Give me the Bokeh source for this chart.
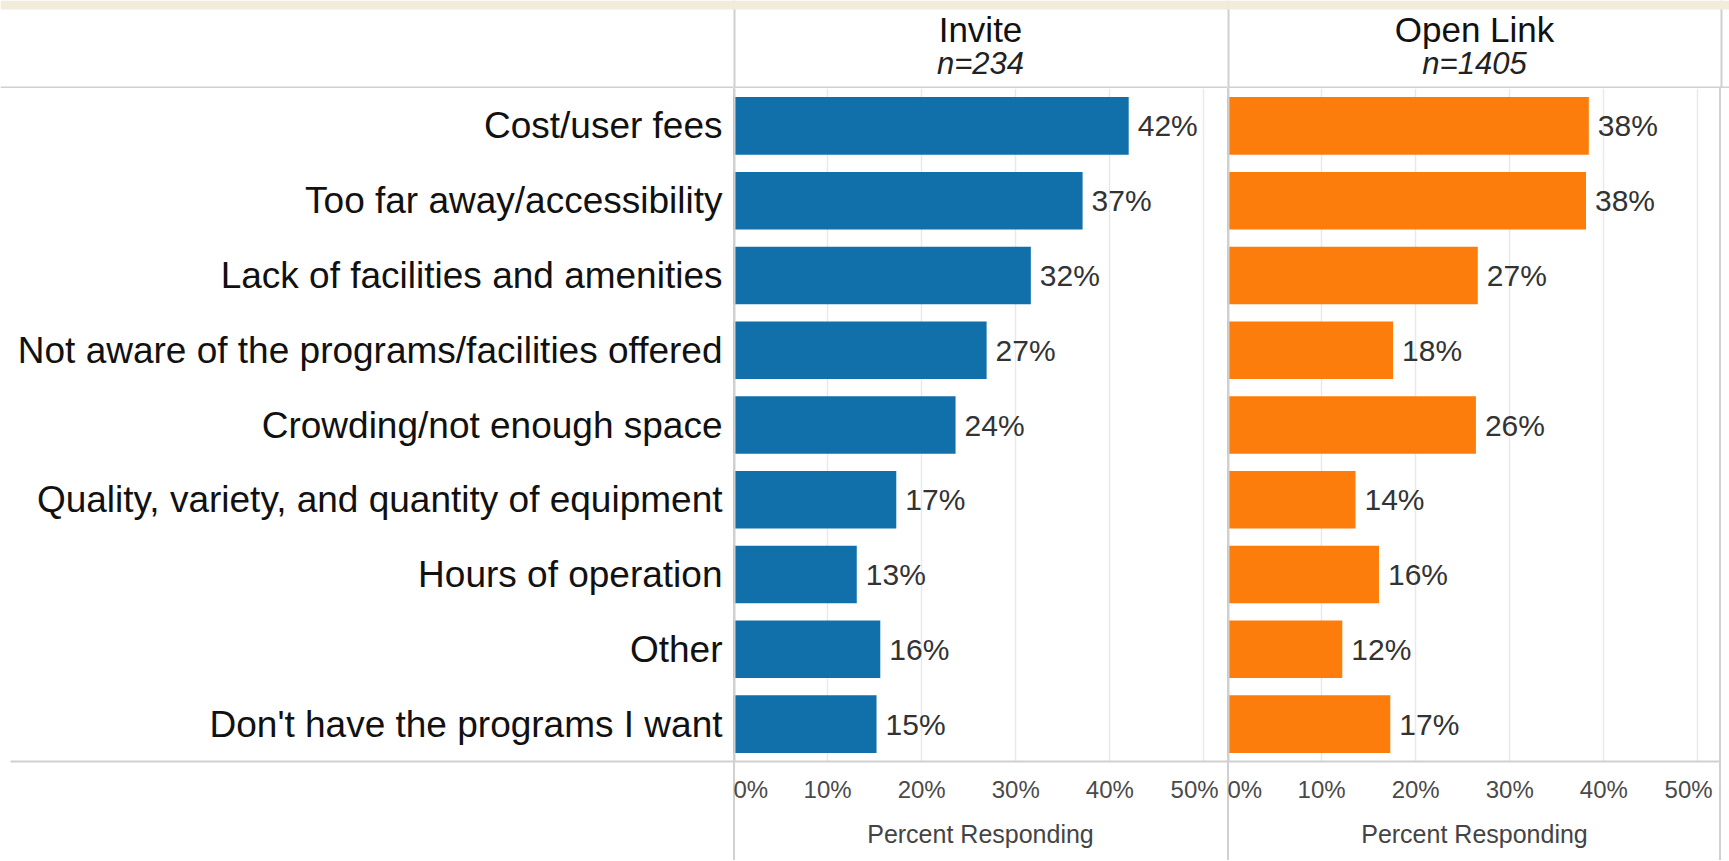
from bokeh.plotting import figure
from bokeh.models import (FactorRange, Range1d, FixedTicker, Span, BoxAnnotation,
                          Label, ColumnDataSource, Spacer)
from bokeh.layouts import column, row
from bokeh.embed import file_html
from bokeh.resources import INLINE
from bokeh.core.properties import value

# ---------------- data ----------------
categories = [
    "Cost/user fees",
    "Too far away/accessibility",
    "Lack of facilities and amenities",
    "Not aware of the programs/facilities offered",
    "Crowding/not enough space",
    "Quality, variety, and quantity of equipment",
    "Hours of operation",
    "Other",
    "Don't have the programs I want",
]
invite_pct = [42.0, 37.1, 31.6, 26.9, 23.6, 17.3, 13.1, 15.6, 15.2]
open_link_pct = [38.4, 38.1, 26.6, 17.6, 26.4, 13.6, 16.1, 12.2, 17.3]
panel_titles = ["Invite", "Open Link"]
panel_counts = ["n=234", "n=1405"]
tick_values = [0, 10, 20, 30, 40, 50]
tick_labels = ["0%", "10%", "20%", "30%", "40%", "50%"]
axis_title = "Percent Responding"

# ---------------- style ----------------
FONT = "Liberation Sans"
BLUE = "#1170aa"
ORANGE = "#fc7d0b"
BEIGE = "#f2ecdd"
DIV = "#d0d0d0"
GRID = "#e9e9e9"
LW, PW, EXTRA = 733, 494, 8
HEAD_H, FRAME_H, AX_H = 88, 673, 99
MAIN_H = FRAME_H + AX_H
BAND = 9
X_MAX = 52.5

yr = FactorRange(factors=categories[::-1], range_padding=0)

# tick label anchor positions (end labels nudged inside the panel, like the original)
tick_pos = [float(t) for t in tick_values]
tick_pos[0] += 1.7
tick_pos[-1] -= 1.0


def edge_style(left=True, right=False):
    sh = []
    if left:
        sh.append(f"inset 2px 0 0 0 {DIV}")
    if right:
        sh.append(f"inset -2px 0 0 0 {DIV}")
    return {"box-shadow": ", ".join(sh)} if sh else {}


def base_fig(w, h, **kw):
    return figure(width=w, height=h, output_backend="svg", toolbar_location=None,
                  min_border=0, outline_line_color=None, **kw)


def header(w, title=None, count=None, xend=1.0, divider=False):
    h = base_fig(w, HEAD_H, x_range=Range1d(0, xend), y_range=Range1d(0, HEAD_H),
                 x_axis_location=None, y_axis_location=None,
                 background_fill_color="white", border_fill_color="white")
    h.grid.visible = False
    h.add_layout(Span(location=1, dimension="width", line_color=DIV, line_width=2))
    if divider:
        h.add_layout(Span(location=0, dimension="height", line_color=DIV, line_width=4))
    if xend > 1.0:
        h.add_layout(Span(location=1.0, dimension="height", line_color=DIV, line_width=2))
    if title is not None:
        h.add_layout(Label(x=0.5, y=HEAD_H - 29, text=title, text_align="center",
                           text_baseline="middle", text_font=FONT,
                           text_font_size="35px", text_color="#111111"))
        h.add_layout(Label(x=0.5, y=HEAD_H - 63, text=count, text_align="center",
                           text_baseline="middle", text_font=FONT,
                           text_font_style="italic",
                           text_font_size="31px", text_color="#222222"))
    h.add_layout(BoxAnnotation(bottom=HEAD_H - BAND, fill_color=BEIGE, fill_alpha=1,
                               line_color=None))
    return h


def label_fig():
    src = ColumnDataSource(dict(cat=categories))
    p = base_fig(LW, MAIN_H, x_range=Range1d(0, 1), y_range=yr, y_axis_location=None,
                 min_border_left=10, min_border_bottom=AX_H,
                 background_fill_color="white", border_fill_color="white")
    p.text(x=1, y="cat", text="cat", source=src, x_offset=-11, text_align="right",
           text_baseline="middle", text_font=value(FONT), text_font_size="37px",
           text_color="#111111")
    p.grid.visible = False
    ax = p.xaxis[0]
    ax.ticker = FixedTicker(ticks=[])
    ax.axis_line_color = DIV
    ax.axis_line_width = 2
    ax.major_tick_line_color = None
    ax.minor_tick_line_color = None
    ax.major_label_text_font_size = "0px"
    return p


def panel(vals, color, right_edge=False):
    src = ColumnDataSource(dict(cat=categories, val=vals,
                                lab=[f"{round(v)}%" for v in vals]))
    p = base_fig(PW, MAIN_H, x_range=Range1d(0, X_MAX), y_range=yr,
                 y_axis_location=None, min_border_bottom=AX_H,
                 background_fill_color=None, border_fill_color=None,
                 styles=edge_style(True, right_edge))
    p.ygrid.visible = False
    p.xgrid.ticker = FixedTicker(ticks=tick_values[1:])
    p.xgrid.grid_line_color = GRID
    p.xgrid.grid_line_width = 1.5
    p.hbar(y="cat", left=0, right="val", height=0.77, fill_color=color,
           line_color=None, source=src)
    p.text(x="val", y="cat", text="lab", source=src, x_offset=9, text_align="left",
           text_baseline="middle", text_font=value(FONT), text_font_size="30px",
           text_color="#333333")
    p.add_layout(Span(location=0, dimension="height", line_color=DIV, line_width=4))
    if right_edge:
        p.add_layout(Span(location=X_MAX, dimension="height", line_color=DIV,
                          line_width=4))
    ax = p.xaxis[0]
    ax.ticker = FixedTicker(ticks=tick_pos)
    ax.major_label_overrides = dict(zip(tick_pos, tick_labels))
    ax.major_tick_line_color = None
    ax.major_tick_in = 0
    ax.major_tick_out = 0
    ax.minor_tick_line_color = None
    ax.axis_line_color = DIV
    ax.axis_line_width = 2
    ax.major_label_standoff = 14
    ax.major_label_text_font = FONT
    ax.major_label_text_font_size = "24px"
    ax.major_label_text_color = "#4a4a4a"
    ax.axis_label = axis_title
    ax.axis_label_standoff = 14
    ax.axis_label_text_font = FONT
    ax.axis_label_text_font_size = "25px"
    ax.axis_label_text_font_style = "normal"
    ax.axis_label_text_color = "#444444"
    return p


top = row(header(LW),
          header(PW, panel_titles[0], panel_counts[0], divider=True),
          header(PW + EXTRA, panel_titles[1], panel_counts[1],
                 xend=(PW + EXTRA) / PW, divider=True))
main = row(label_fig(),
           panel(invite_pct, BLUE),
           panel(open_link_pct, ORANGE, right_edge=True),
           Spacer(width=EXTRA, height=MAIN_H))
layout = column(top, main)

open("out.html", "w").write(file_html(layout, INLINE))
